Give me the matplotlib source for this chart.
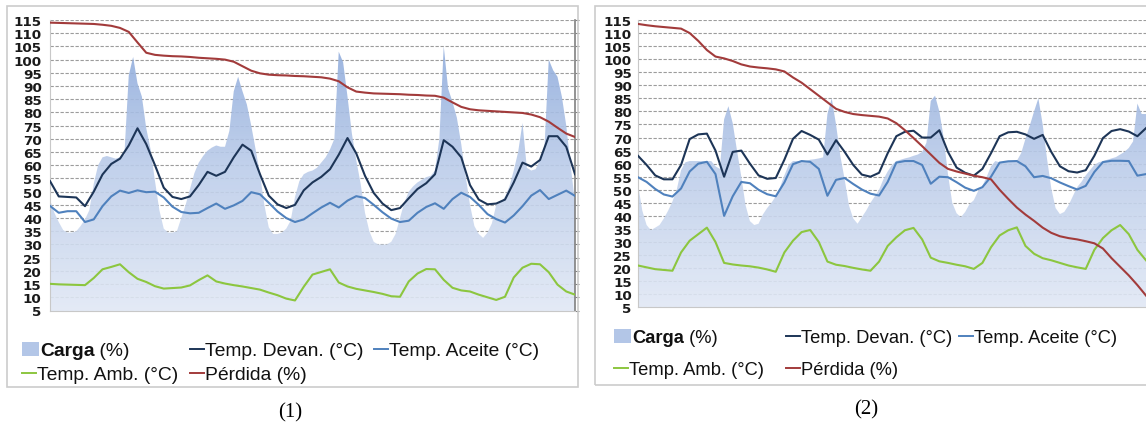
import numpy as np
import matplotlib
matplotlib.use("Agg")
import matplotlib.pyplot as plt
from matplotlib.lines import Line2D
from matplotlib.patches import Rectangle
from matplotlib.colors import LinearSegmentedColormap

# ---------------- data ----------------
# Panel (1): hours 0..120; carga hourly, other series every 2 h
p1_carga = [47, 42, 38.5, 35.5, 34.5, 34.5, 35, 37, 39.5, 43,
            53, 60, 63, 63.5, 63, 62.5, 63, 64, 94, 101,
            91, 86, 74, 66, 54, 43, 36, 34.5, 34.5, 35,
            40, 45, 51, 57, 61, 63.5, 65.5, 66.7, 67.5, 67,
            67, 73, 88, 93.5, 88, 83, 75, 66, 56.6, 45,
            36.5, 34, 34, 34.5, 36, 39, 48, 54, 56.6, 57.5,
            58, 59, 61, 63, 66, 70, 103, 99, 86, 72,
            62, 53, 42, 35, 31, 30, 30, 30, 31, 34,
            40, 46, 50, 52, 53.5, 54.5, 55.5, 56, 58, 70,
            105, 89, 84, 78, 68, 56, 45, 37, 34, 32.5,
            34.5, 38, 45, 46, 48, 52, 58, 65, 76, 59,
            58, 58.5, 62, 66, 100, 96, 93.5, 86, 75, 60,
            46]
p1_devan = [54, 48.2, 48, 47.8, 44.5, 50, 56.5, 60.5, 62.5, 67.5,
            74, 68, 60, 51.5, 48, 47.2, 48.2, 52.5, 57.5, 56,
            57.5, 63, 67.8, 65.5, 56.6, 48.5, 45.2, 43.8, 45, 50.5,
            53.5, 55.6, 58.5, 64, 70.3, 64.5, 56, 49.5, 45.5, 43,
            43.8, 47.5, 51, 53.2, 56.6, 69.5, 67, 63, 52.5, 47,
            45.2, 45.5, 47, 53.5, 61, 59.5, 62, 71, 71, 67,
            56.6]
p1_aceite = [44.6, 42, 42.6, 42.6, 38.5, 39.5, 44.5, 48.2, 50.4, 49.5,
             50.5, 49.8, 50, 47.8, 44.3, 42.3, 41.8, 42, 43.8, 45.5,
             43.5, 44.8, 46.5, 49.8, 49, 45.8, 42.5, 40, 38.5, 39.5,
             41.8, 44, 45.8, 44, 46.6, 48.3, 47.6, 45, 42.2, 39.8,
             38.5, 39, 42, 44.2, 45.6, 43.5, 47.2, 49.6, 48, 45,
             41.5, 39.6, 38.3, 41, 44.5, 48.5, 50.6, 47.2, 48.8, 50.4,
             48.4]
p1_amb = [15.1, 14.9, 14.8, 14.7, 14.6, 17.3, 20.6, 21.5, 22.5, 19.5,
          17, 15.8, 14.2, 13.3, 13.5, 13.7, 14.5, 16.5, 18.3, 16,
          15.2, 14.6, 14.1, 13.5, 12.9, 11.8, 10.8, 9.5, 8.8, 14,
          18.6, 19.6, 20.6, 15.6, 14.1, 13.2, 12.6, 12, 11.3, 10.4,
          10.2, 16, 19, 20.7, 20.6, 16.6, 13.6, 12.6, 12.2, 11,
          10, 9, 10.2, 17.5, 21.2, 22.7, 22.5, 19.5, 14.8, 12.2,
          11]
p1_perdida = [114, 113.9, 113.8, 113.7, 113.6, 113.5, 113.2, 112.8, 112, 110.5,
              106.5, 102.6, 101.8, 101.5, 101.3, 101.2, 101, 100.7, 100.5, 100.3,
              100, 99.2, 97.5, 95.8, 94.8, 94.3, 94.1, 94, 93.8, 93.7,
              93.5, 93.3, 92.8, 91.8, 89.5, 87.9, 87.5, 87.2, 87.1, 87,
              86.9, 86.7, 86.6, 86.4, 86.3, 85.6, 83.8, 82.1, 81.2, 80.8,
              80.6, 80.4, 80.2, 80, 79.8, 79.2, 78.2, 76.5, 74.2, 72,
              70.7]

# Panel (2): hours 0..118 visible
p2_carga = [52, 42, 36.5, 34.5, 35.5, 36.5, 39, 42, 45.5, 50,
            57.5, 60.5, 61, 61, 61, 61, 61, 61, 59, 58,
            77, 82, 75.5, 65, 55, 44, 38, 36.5, 37, 40.5,
            43, 45, 47.5, 51, 55.5, 59.5, 61, 61, 61, 61,
            61.5, 61.7, 62, 62.4, 79, 85, 75, 63, 54, 44,
            39, 37, 39.5, 42, 45, 47.5, 50, 54, 57, 59.5,
            61, 61.5, 62, 62.4, 63, 63.5, 64.5, 68, 84, 86,
            80, 70, 56, 45, 41, 39.5, 41.5, 44.5, 46, 49.5,
            51.5, 55, 59, 61, 60.5, 60.5, 61, 61, 61.1, 64,
            69.5, 74.5, 80, 85, 75, 62, 50.5, 43, 40.7, 41.5,
            44, 47.5, 51, 53, 55.5, 57.5, 59.5, 60.5, 61, 61.5,
            62, 62.5, 63.5, 64.5, 66, 68.5, 83, 79, 79]
p2_devan = [63, 59.5, 55.5, 54, 54, 59.5, 69.4, 71.2, 71.5, 65,
            55, 64.5, 65, 60, 55.5, 54.2, 54.5, 61.5, 69.5, 72.5,
            71, 69.2, 63.5, 69, 64.5, 59.5, 55.8, 55, 56.5, 64,
            70.5, 72.2, 72.6, 70, 70, 72.8, 64.5, 58.5, 56.5, 55.4,
            58, 64, 70.5, 72, 72.2, 71.2, 69.5, 71, 64.5, 59,
            57.1, 56.6, 57.5, 63, 69.8, 72.5, 73.2, 72.3, 70.5, 73.6]
p2_aceite = [54.8, 53, 50.3, 48.2, 47.4, 50.5, 57, 60, 60.7, 56,
             40, 47.5, 53, 52.5, 50, 48.3, 47.5, 52.8, 59.8, 61,
             60.7, 58, 47.7, 53.8, 54.5, 52.2, 50.1, 48.5, 47.8, 53,
             60.4, 61, 61, 59.5, 52.3, 55, 54.8, 52.9, 50.8, 49.6,
             51, 55, 60.4, 60.9, 61, 59, 54.8, 55.3, 54.4, 52.8,
             51.4, 50.1, 51.5, 56.8, 60.6, 61.1, 61.1, 61, 55.4, 56]
p2_amb = [21, 20.3, 19.6, 19.3, 19, 26, 30.5, 33, 35.5, 30,
          22, 21.4, 21, 20.7, 20.2, 19.5, 18.6, 26, 30.5, 33.8,
          34.6, 30, 22.5, 21.3, 20.8, 20.1, 19.5, 19, 22.5, 28.5,
          31.8, 34.5, 35.4, 31, 24, 22.6, 22, 21.3, 20.7, 19.7,
          22, 28, 32.5, 34.5, 35.6, 28.5, 25.5, 23.8, 23, 22,
          21, 20.3, 19.7, 27, 31.5, 34.5, 36.5, 33, 27, 23]
p2_perdida = [113.5, 113, 112.6, 112.3, 112, 111.7, 110, 107, 103.5, 101,
              100.3, 99.3, 98, 97.2, 96.8, 96.5, 96.1, 95.3, 93, 91,
              88.5, 86, 83.5, 81, 79.8, 79, 78.6, 78.3, 78, 77.3,
              75.5, 72.8, 69.8, 66.7, 63.5, 60.3, 58, 57, 56.2, 55.4,
              54.8, 54, 50, 46.5, 43.2, 40.5, 38.1, 35.5, 33.5, 32.2,
              31.5, 31, 30.3, 29.5, 27.5, 23.8, 20.5, 17.2, 13.5, 9.5]

yticks = list(range(5, 116, 5))
legend_labels = ["Carga", " (%)", "Temp. Devan. (°C)", "Temp. Aceite (°C)",
                 "Temp. Amb. (°C)", "Pérdida (%)"]
captions = ["(1)", "(2)"]

# ---------------- styles ----------------
C_DEVAN = "#1d3557"
C_ACEITE = "#4f81bd"
C_AMB = "#8cc63f"
C_PERD = "#a23b3b"
cmap = LinearSegmentedColormap.from_list("carga", ["#e1e8f5", "#bccdea", "#89a7da"])

W, H = 1146, 427
fig = plt.figure(figsize=(W / 100, H / 100), dpi=100)
fig.patch.set_facecolor("white")


def fx(px):
    return px / W


def fy(py):
    return 1 - py / H


def rect(l, t, r, b):
    return [l / W, 1 - b / H, (r - l) / W, (b - t) / H]


def panel(box, carga, devan, aceite, amb, perd, xmax, right_spine, pad):
    ax = fig.add_axes(box)
    tc = np.arange(len(carga))
    tl = np.arange(len(devan)) * 2
    coll = ax.fill_between(tc, carga, 0, facecolor="none", edgecolor="none", lw=0)
    path = coll.get_paths()[0]
    im = ax.imshow(np.linspace(0, 1, 256)[:, None], cmap=cmap, origin="lower",
                   extent=(0, xmax, 5, 112), aspect="auto", zorder=1.5,
                   alpha=0.9, interpolation="bilinear")
    im.set_clip_path(path, ax.transData)
    ax.plot(tl, devan, color=C_DEVAN, lw=1.5, zorder=3)
    ax.plot(tl, aceite, color=C_ACEITE, lw=1.5, zorder=3)
    ax.plot(tl, amb, color=C_AMB, lw=1.5, zorder=3)
    ax.plot(tl, perd, color=C_PERD, lw=1.5, zorder=4)
    ax.set_xlim(0, xmax)
    ax.set_ylim(5, 115)
    ax.set_yticks(yticks)
    ax.set_xticks([])
    ax.yaxis.grid(True, color="#9c9c9c", linestyle=(0, (3, 1.5)), lw=0.8, zorder=0)
    ax.set_axisbelow(True)
    ax.spines["top"].set_visible(False)
    ax.spines["left"].set_color("#c8c8c8")
    ax.spines["bottom"].set_color("#c8c8c8")
    if right_spine:
        ax.spines["right"].set_color("#808080")
        ax.spines["right"].set_linewidth(1.2)
        ax.tick_params(axis="y", left=False, right=True, labelright=False,
                       direction="out", length=3, color="#808080", pad=pad)
    else:
        ax.spines["right"].set_visible(False)
        ax.tick_params(axis="y", left=False, right=False, length=0, pad=pad)
    for lab in ax.get_yticklabels():
        lab.set_fontfamily("DejaVu Sans")
        lab.set_fontweight("bold")
        lab.set_fontsize(9.7)
        lab.set_color("#1a1a1a")
    ax.set_facecolor("white")
    return ax


# frames
fig.add_artist(Rectangle((fx(7), fy(388)), fx(578) - fx(7), fy(7) - fy(388),
                         transform=fig.transFigure, fill=False, ec="#cccccc", lw=1.2))
fig.add_artist(Rectangle((fx(595), fy(386)), fx(1160) - fx(595), fy(7) - fy(386),
                         transform=fig.transFigure, fill=False, ec="#cccccc", lw=1.2))

panel(rect(50, 21, 575, 311.5), p1_carga, p1_devan, p1_aceite, p1_amb, p1_perdida,
      120, True, 3)
panel(rect(638, 21, 1146, 308.3), p2_carga, p2_devan, p2_aceite, p2_amb, p2_perdida,
      118, False, 4.5)


def legend(x_patch, x_col2, x_col3, y1, y2, fs):
    font = "Liberation Sans"
    renderer = fig.canvas.get_renderer()
    fig.add_artist(Rectangle((fx(x_patch), fy(y1 + 1)), fx(17), fy(0) - fy(14),
                             transform=fig.transFigure, fc="#b3c6e7", ec="none"))
    t = fig.text(fx(x_patch + 18), fy(y1), legend_labels[0], fontsize=fs,
                 fontfamily=font, fontweight="bold", va="baseline", color="#111111")
    bb = t.get_window_extent(renderer)
    fig.text(bb.x1 / W, fy(y1), legend_labels[1], fontsize=fs, fontfamily=font,
             va="baseline", color="#111111")

    def entry(xd, y, col, lab):
        fig.add_artist(Line2D([fx(xd), fx(xd + 14)], [fy(y - 6), fy(y - 6)],
                              transform=fig.transFigure, color=col, lw=1.4))
        fig.text(fx(xd + 15), fy(y), lab, fontsize=fs, fontfamily=font,
                 va="baseline", color="#111111")

    entry(x_col2, y1, C_DEVAN, legend_labels[2])
    entry(x_col3, y1, C_ACEITE, legend_labels[3])
    entry(x_patch, y2, C_AMB, legend_labels[4])
    entry(x_col2, y2, C_PERD, legend_labels[5])


legend(22, 190, 374, 356, 380, 13.9)
legend(614, 786, 959, 343, 375, 13.2)

fig.text(fx(290), fy(413), captions[0], fontsize=15, fontfamily="Liberation Serif",
         ha="center", va="center")
fig.text(fx(866), fy(410), captions[1], fontsize=15, fontfamily="Liberation Serif",
         ha="center", va="center")

fig.savefig("out.png", dpi=100, facecolor="white")
